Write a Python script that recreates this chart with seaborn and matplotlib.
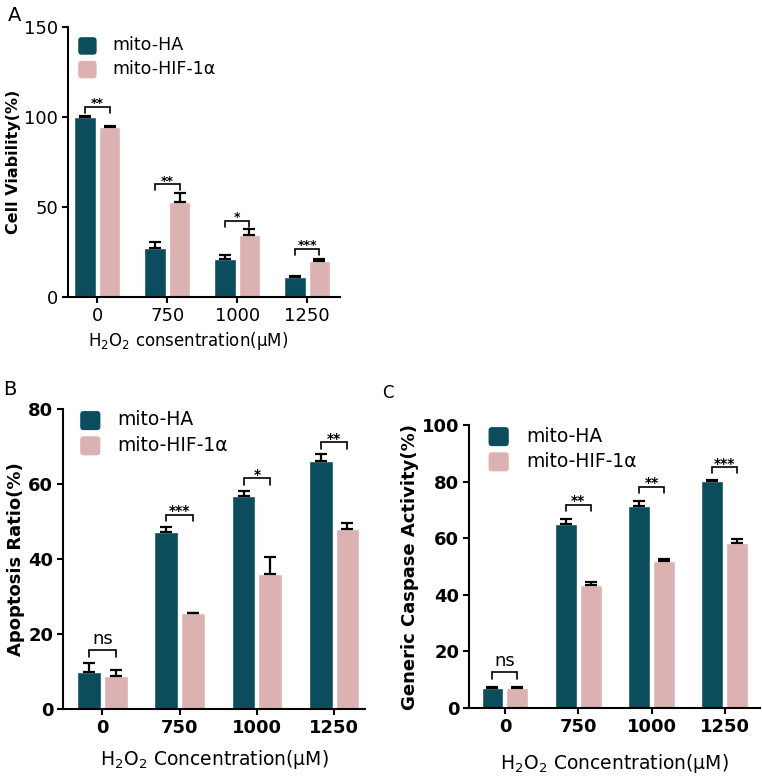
import matplotlib
matplotlib.use('Agg')
import matplotlib.pyplot as plt
import pandas as pd
import seaborn as sns
from matplotlib.patches import FancyBboxPatch
from matplotlib.legend_handler import HandlerPatch

doses = ['0', '750', '1000', '1250']
groups = ['mito-HA', 'mito-HIF-1α']

# panel A - cell viability
viab_ha = [100.0, 27.4, 21.1, 11.3]
viab_ha_err = [0.5, 3.0, 2.2, 0.5]
viab_hif = [94.2, 52.6, 34.4, 20.2]
viab_hif_err = [1.0, 5.2, 3.4, 0.9]
sig_a = ['**', '**', '*', '***']
brk_a = [105.5, 62.6, 42.4, 26.7]

# panel B - apoptosis ratio
apop_ha = [9.8, 47.3, 56.9, 66.2]
apop_ha_err = [2.4, 1.1, 1.1, 1.7]
apop_hif = [8.9, 25.5, 36.0, 48.0]
apop_hif_err = [1.4, 0.2, 4.4, 1.7]
sig_b = ['ns', '***', '*', '**']
brk_b = [15.6, 51.8, 61.6, 71.1]

# panel C - generic caspase activity
casp_ha = [7.0, 64.9, 71.5, 80.2]
casp_ha_err = [0.5, 1.8, 1.8, 0.3]
casp_hif = [7.0, 43.3, 51.8, 58.2]
casp_hif_err = [0.5, 1.3, 0.9, 1.6]
sig_c = ['ns', '**', '**', '***']
brk_c = [12.6, 71.8, 78.2, 85.1]

TEAL = '#0b4d5c'
PINK = '#dbb1b1'

sns.set_style('ticks')
plt.rcParams['font.family'] = ['DejaVu Sans']
plt.rcParams['mathtext.fontset'] = 'dejavusans'
plt.rcParams['axes.linewidth'] = 1.5
plt.rcParams['axes.edgecolor'] = 'black'
plt.rcParams['axes.labelcolor'] = 'black'
plt.rcParams['text.color'] = 'black'
plt.rcParams['xtick.color'] = 'black'
plt.rcParams['ytick.color'] = 'black'
plt.rcParams['xtick.major.width'] = 1.5
plt.rcParams['ytick.major.width'] = 1.5
plt.rcParams['xtick.major.size'] = 4
plt.rcParams['ytick.major.size'] = 4


def rounded(legend, orig_handle, xdescent, ydescent, width, height, fontsize):
    return FancyBboxPatch((-xdescent + 1, -ydescent - 1), width - 2, height,
                          boxstyle='round,pad=0,rounding_size=3')


def make_df(ha, hif, ha_err, hif_err):
    return pd.DataFrame({
        'dose': doses * 2,
        'group': [groups[0]] * 4 + [groups[1]] * 4,
        'value': ha + hif,
        'err': ha_err + hif_err,
    })


def panel(ax, df, sigs, brks, ymax, ystep, width, gap, bold_ticks, fs_tick,
          ylabel, fs_ylab, xlabel, fs_xlab, xpad, fs_leg, leg_anchor, fs_sig, xlim):
    sns.barplot(data=df, x='dose', y='value', hue='group', order=doses,
                hue_order=groups, palette=[TEAL, PINK], errorbar=None,
                width=width, gap=gap, saturation=1, ax=ax)
    # one-sided error bars
    for cont, g in zip(ax.containers, groups):
        sub = df[df['group'] == g]
        xs = [b.get_x() + b.get_width() / 2 for b in cont]
        ax.errorbar(xs, sub['value'].values,
                    yerr=[[0] * len(xs), sub['err'].values],
                    fmt='none', ecolor='black', elinewidth=1.6,
                    capsize=4.5, capthick=1.6, zorder=1)
    # significance brackets
    leg = ymax * 0.022
    for i, (s, y) in enumerate(zip(sigs, brks)):
        b1 = ax.containers[0][i]
        b2 = ax.containers[1][i]
        x1 = b1.get_x() + b1.get_width() / 2
        x2 = b2.get_x() + b2.get_width() / 2
        ax.plot([x1, x1, x2, x2], [y - leg, y, y, y - leg], color='black',
                lw=1.2, solid_joinstyle='miter')
        if s == 'ns':
            ax.text((x1 + x2) / 2, y + ymax * 0.008, s, ha='center',
                    va='bottom', fontsize=fs_sig + 3)
        else:
            ax.text((x1 + x2) / 2, y - ymax * 0.012, s, ha='center',
                    va='bottom', fontsize=fs_sig, fontweight='bold')
    ax.set_ylim(0, ymax)
    ax.set_yticks(range(0, ymax + 1, ystep))
    ax.set_xlim(*xlim)
    sns.despine(ax=ax)
    wt = 'bold' if bold_ticks else 'normal'
    ax.tick_params(axis='both', labelsize=fs_tick, direction='out', pad=3)
    for t in ax.get_xticklabels() + ax.get_yticklabels():
        t.set_fontweight(wt)
    ax.set_ylabel(ylabel, fontsize=fs_ylab, fontweight='bold', labelpad=2)
    ax.set_xlabel(xlabel, fontsize=fs_xlab, labelpad=xpad)
    handles, labels = ax.get_legend_handles_labels()
    ax.legend(handles, labels, loc='upper left', bbox_to_anchor=leg_anchor,
              frameon=False, fontsize=fs_leg, handlelength=1.3,
              handleheight=1.3, handletextpad=0.8, labelspacing=0.25,
              borderaxespad=0, borderpad=0,
              handler_map={h: HandlerPatch(patch_func=rounded) for h in handles})


fig = plt.figure(figsize=(7.62, 7.78), dpi=100)
axA = fig.add_axes([0.0892, 0.6183, 0.357, 0.347])
axB = fig.add_axes([0.0827, 0.0887, 0.3963, 0.3856])
axC = fig.add_axes([0.6155, 0.0900, 0.3819, 0.3637])

xl_small = r'H$_\mathregular{2}$O$_\mathregular{2}$ consentration(μM)'
xl_big = r'H$_\mathregular{2}$O$_\mathregular{2}$ Concentration(μM)'

panel(axA, make_df(viab_ha, viab_hif, viab_ha_err, viab_hif_err), sig_a, brk_a,
      150, 50, 0.7, 0.12, False, 13, 'Cell Viability(%)', 11.5, xl_small, 12, 4,
      12.5, (0.03, 0.97), 9, (-0.42, 3.47))
panel(axB, make_df(apop_ha, apop_hif, apop_ha_err, apop_hif_err), sig_b, brk_b,
      80, 20, 0.69, 0.11, True, 13, 'Apoptosis Ratio(%)', 13, xl_big, 13.5, 8,
      13.5, (0.05, 1.0), 10, (-0.51, 3.40))
panel(axC, make_df(casp_ha, casp_hif, casp_ha_err, casp_hif_err), sig_c, brk_c,
      100, 20, 0.68, 0.12, True, 13, 'Generic Caspase Activity(%)', 13, xl_big,
      13.5, 12, 13.5, (0.06, 1.0), 10, (-0.49, 3.48))

# panel A x label sits left of the axis centre in the original
axA.xaxis.label.set_x(0.44)

fig.text(0.010, 0.992, 'A', fontsize=14, va='top', ha='left')
fig.text(0.004, 0.512, 'B', fontsize=14, va='top', ha='left')
fig.text(0.502, 0.507, 'C', fontsize=12, va='top', ha='left')

fig.savefig('out.png', dpi=100)
